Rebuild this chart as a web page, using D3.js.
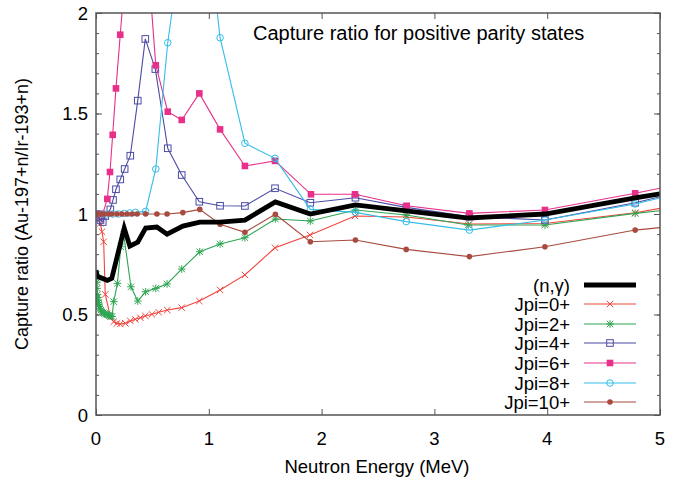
<!DOCTYPE html>
<html>
<head>
<meta charset="utf-8">
<script src="https://cdn.jsdelivr.net/npm/d3@7"></script>
<style>
  html, body { margin: 0; padding: 0; background: #fff; }
  svg text { font-family: "Liberation Sans", Arial, Helvetica, sans-serif; fill: #000; }
</style>
</head>
<body>
<svg id="chart" width="678" height="481"></svg>
<script>
// ---------- data ----------
const titleText = "Capture ratio for positive parity states";
const xLabel = "Neutron Energy (MeV)";
const yLabel = "Capture ratio (Au-197+n/Ir-193+n)";
const xTicks = [0, 1, 2, 3, 4, 5];
const yTickLabels = [0, 0.5, 1, 1.5, 2];

const nGammaE = [0.0, 0.01, 0.1, 0.14, 0.25, 0.3, 0.37, 0.44, 0.54, 0.63, 0.77, 0.92, 1.1, 1.32, 1.59, 1.9, 2.3, 2.75, 3.3, 3.98, 4.78, 5.0];
const nGammaR = [0.72, 0.69, 0.67, 0.68, 0.93, 0.84, 0.86, 0.93, 0.935, 0.90, 0.94, 0.96, 0.96, 0.97, 1.06, 1.0, 1.045, 1.015, 0.98, 1.0, 1.08, 1.10];

const jpi0E = [0.002, 0.02, 0.038, 0.053, 0.068, 0.082, 0.127, 0.157, 0.186, 0.215, 0.26, 0.304, 0.348, 0.393, 0.437, 0.496, 0.556, 0.632, 0.76, 0.916, 1.10, 1.32, 1.587, 1.897, 2.296, 2.754, 3.31, 3.98, 4.78, 5.0];
const jpi0R = [1.0, 0.98, 0.954, 0.912, 0.862, 0.6, 0.49, 0.464, 0.456, 0.453, 0.456, 0.468, 0.476, 0.484, 0.493, 0.501, 0.511, 0.522, 0.534, 0.567, 0.622, 0.697, 0.832, 0.896, 0.99, 0.985, 0.95, 0.953, 1.006, 1.028];

const jpi2E = [0.003, 0.005, 0.007, 0.009, 0.012, 0.015, 0.018, 0.021, 0.024, 0.029, 0.035, 0.043, 0.053, 0.064, 0.075, 0.086, 0.098, 0.11, 0.12, 0.131, 0.142, 0.157, 0.19, 0.22, 0.245, 0.31, 0.37, 0.44, 0.53, 0.63, 0.76, 0.92, 1.10, 1.32, 1.59, 1.9, 2.3, 2.75, 3.3, 3.98, 4.78, 5.0];
const jpi2R = [0.70, 0.68, 0.66, 0.63, 0.60, 0.585, 0.57, 0.56, 0.55, 0.54, 0.53, 0.522, 0.514, 0.509, 0.505, 0.502, 0.50, 0.497, 0.495, 0.492, 0.49, 0.564, 0.655, 0.837, 0.90, 0.638, 0.567, 0.613, 0.63, 0.652, 0.726, 0.812, 0.851, 0.882, 0.975, 0.965, 1.02, 0.995, 0.945, 0.945, 1.003, 1.016];

const jpi4E = [0.002, 0.02, 0.04, 0.06, 0.082, 0.127, 0.151, 0.177, 0.215, 0.254, 0.304, 0.37, 0.437, 0.526, 0.636, 0.76, 0.916, 1.10, 1.32, 1.587, 1.9, 2.3, 2.75, 3.31, 3.98, 4.78, 5.0];
const jpi4R = [1.0, 0.985, 0.97, 0.96, 0.99, 1.023, 1.07, 1.123, 1.172, 1.224, 1.29, 1.564, 1.871, 1.721, 1.327, 1.194, 1.061, 1.041, 1.04, 1.128, 1.056, 1.081, 1.033, 0.987, 0.97, 1.056, 1.086];

const jpi6E = [0.002, 0.03, 0.06, 0.10, 0.124, 0.148, 0.177, 0.215, 0.25, 0.30, 0.36, 0.44, 0.53, 0.636, 0.76, 0.916, 1.10, 1.32, 1.587, 1.906, 2.296, 2.754, 3.31, 3.98, 4.78, 5.0];
const jpi6R = [1.0, 1.0, 1.0, 1.075, 1.209, 1.394, 1.625, 1.892, 2.14, 2.5, 2.7, 2.41, 1.74, 1.509, 1.468, 1.60, 1.421, 1.239, 1.264, 1.098, 1.098, 1.041, 1.003, 1.02, 1.103, 1.128];

const jpi8E = [0.002, 0.05, 0.1, 0.15, 0.2, 0.25, 0.3, 0.35, 0.44, 0.53, 0.636, 0.77, 0.92, 1.10, 1.32, 1.587, 1.9, 2.3, 2.75, 3.31, 3.98, 4.78, 5.0];
const jpi8R = [1.0, 1.0, 1.0, 1.0, 1.0, 1.003, 1.005, 1.008, 1.013, 1.224, 1.852, 2.4, 2.79, 1.877, 1.352, 1.277, 1.023, 1.008, 0.962, 0.92, 0.97, 1.05, 1.08];

const jpi10E = [0.002, 0.01, 0.02, 0.04, 0.068, 0.11, 0.14, 0.186, 0.23, 0.275, 0.32, 0.365, 0.44, 0.54, 0.63, 0.77, 0.92, 1.10, 1.32, 1.59, 1.9, 2.3, 2.75, 3.31, 3.98, 4.78, 5.0];
const jpi10R = [1.0, 1.0, 1.0, 1.0, 1.0, 1.0, 1.0, 1.0, 1.0, 1.0, 1.0, 1.0, 1.0, 1.0, 1.0, 1.007, 1.023, 0.949, 0.909, 0.999, 0.862, 0.871, 0.824, 0.788, 0.837, 0.92, 0.932];

const seriesNames = ["(n,\u03b3)", "Jpi=0+", "Jpi=2+", "Jpi=4+", "Jpi=6+", "Jpi=8+", "Jpi=10+"];
const seriesColors = ["#000000", "#f0443c", "#2fa552", "#4b4ba6", "#e8308a", "#33bde9", "#a84a40"];
const seriesMarkers = ["none", "cross", "asterisk", "square", "squareFilled", "circle", "circleFilled"];
const seriesE = [nGammaE, jpi0E, jpi2E, jpi4E, jpi6E, jpi8E, jpi10E];
const seriesR = [nGammaR, jpi0R, jpi2R, jpi4R, jpi6R, jpi8R, jpi10R];

// ---------- layout ----------
const mLeft = 96, mRight = 660, mTop = 13, mBottom = 415;
const svg = d3.select("#chart");
const x = d3.scaleLinear().domain([0, 5]).range([mLeft, mRight]);
const y = d3.scaleLinear().domain([0, 2]).range([mBottom, mTop]);
const axisColor = "#555";

svg.append("defs").append("clipPath").attr("id", "plotclip")
  .append("rect").attr("x", mLeft).attr("y", mTop).attr("width", mRight - mLeft).attr("height", mBottom - mTop);

// ticks via axes (inward)
const yMinor = d3.range(0, 2.0001, 0.1).map(v => +v.toFixed(2));
const yMajor = [0, 0.5, 1, 1.5, 2];
function tickGroup(axis, tx, ty) {
  const g = svg.append("g").attr("transform", `translate(${tx},${ty})`).call(axis);
  g.select(".domain").remove();
  g.selectAll("text").remove();
  g.selectAll("line").attr("stroke", axisColor).attr("stroke-width", 1);
  return g;
}
tickGroup(d3.axisLeft(y).tickValues(yMinor).tickSize(-3), mLeft, 0);
tickGroup(d3.axisLeft(y).tickValues(yMajor).tickSize(-6), mLeft, 0);
tickGroup(d3.axisRight(y).tickValues(yMinor).tickSize(-3), mRight, 0);
tickGroup(d3.axisRight(y).tickValues(yMajor).tickSize(-6), mRight, 0);
tickGroup(d3.axisBottom(x).tickValues(xTicks).tickSize(-6), 0, mBottom);
tickGroup(d3.axisTop(x).tickValues(xTicks).tickSize(-6), 0, mTop);

// tick labels
svg.append("g").selectAll("text").data(xTicks).join("text")
  .attr("x", d => x(d)).attr("y", 445).attr("text-anchor", "middle")
  .attr("font-size", 18.5).text(d => d);
svg.append("g").selectAll("text").data(yTickLabels).join("text")
  .attr("x", 88).attr("y", d => y(d) + 6.5).attr("text-anchor", "end")
  .attr("font-size", 18.5).text(d => d);

// axis labels
svg.append("text").attr("x", 377).attr("y", 473).attr("text-anchor", "middle")
  .attr("font-size", 18.5).text(xLabel);
svg.append("text").attr("transform", `translate(28,${(mTop + mBottom) / 2}) rotate(-90)`)
  .attr("text-anchor", "middle").attr("font-size", 18).text(yLabel);

// title
svg.append("text").attr("x", 253).attr("y", 40).attr("text-anchor", "start")
  .attr("font-size", 20).text(titleText);

// markers
function drawMarker(g, type, cx, cy, color) {
  const s = 3.2;
  if (type === "cross" || type === "asterisk") {
    g.append("path").attr("d", `M${cx - s},${cy - s}L${cx + s},${cy + s}M${cx - s},${cy + s}L${cx + s},${cy - s}`)
      .attr("stroke", color).attr("stroke-width", 1).attr("fill", "none");
    if (type === "asterisk") {
      g.append("path").attr("d", `M${cx - s - 0.6},${cy}L${cx + s + 0.6},${cy}M${cx},${cy - s - 0.6}L${cx},${cy + s + 0.6}`)
        .attr("stroke", color).attr("stroke-width", 1).attr("fill", "none");
    }
  } else if (type === "square") {
    g.append("rect").attr("x", cx - 3.3).attr("y", cy - 3.3).attr("width", 6.6).attr("height", 6.6)
      .attr("fill", "none").attr("stroke", color).attr("stroke-width", 1);
  } else if (type === "squareFilled") {
    g.append("rect").attr("x", cx - 3.3).attr("y", cy - 3.3).attr("width", 6.6).attr("height", 6.6)
      .attr("fill", color).attr("stroke", "none");
  } else if (type === "circle") {
    g.append("circle").attr("cx", cx).attr("cy", cy).attr("r", 3.3)
      .attr("fill", "none").attr("stroke", color).attr("stroke-width", 1);
  } else if (type === "circleFilled") {
    g.append("circle").attr("cx", cx).attr("cy", cy).attr("r", 2.8).attr("fill", color);
  }
}

const plot = svg.append("g").attr("clip-path", "url(#plotclip)");
const line = d3.line().x(d => x(d.e)).y(d => y(d.r));
const order = [1, 2, 3, 4, 5, 6, 0];
order.forEach(i => {
  const pts = seriesE[i].map((e, k) => ({ e: e, r: seriesR[i][k] }));
  const g = plot.append("g");
  g.append("path").datum(pts).attr("d", line).attr("fill", "none")
    .attr("stroke", seriesColors[i]).attr("stroke-width", i === 0 ? 4.8 : 1.1)
    .attr("stroke-linejoin", "miter");
  if (seriesMarkers[i] !== "none") {
    pts.filter(p => p.e < 5).forEach(p => drawMarker(g, seriesMarkers[i], x(p.e), y(p.r), seriesColors[i]));
  }
});

// frame
svg.append("rect").attr("x", mLeft).attr("y", mTop).attr("width", mRight - mLeft).attr("height", mBottom - mTop)
  .attr("fill", "none").attr("stroke", axisColor).attr("stroke-width", 1.5);

// legend
const legY = [285, 304, 324, 343, 363, 383, 402];
const leg = svg.append("g");
seriesNames.forEach((name, i) => {
  leg.append("text").attr("x", 570).attr("y", legY[i] + 6.5).attr("text-anchor", "end")
    .attr("font-size", 18.5).text(name);
  leg.append("line").attr("x1", 584).attr("x2", 636).attr("y1", legY[i]).attr("y2", legY[i])
    .attr("stroke", seriesColors[i]).attr("stroke-width", i === 0 ? 4.8 : 1.1);
  if (seriesMarkers[i] !== "none") drawMarker(leg, seriesMarkers[i], 610, legY[i], seriesColors[i]);
});
</script>
</body>
</html>
